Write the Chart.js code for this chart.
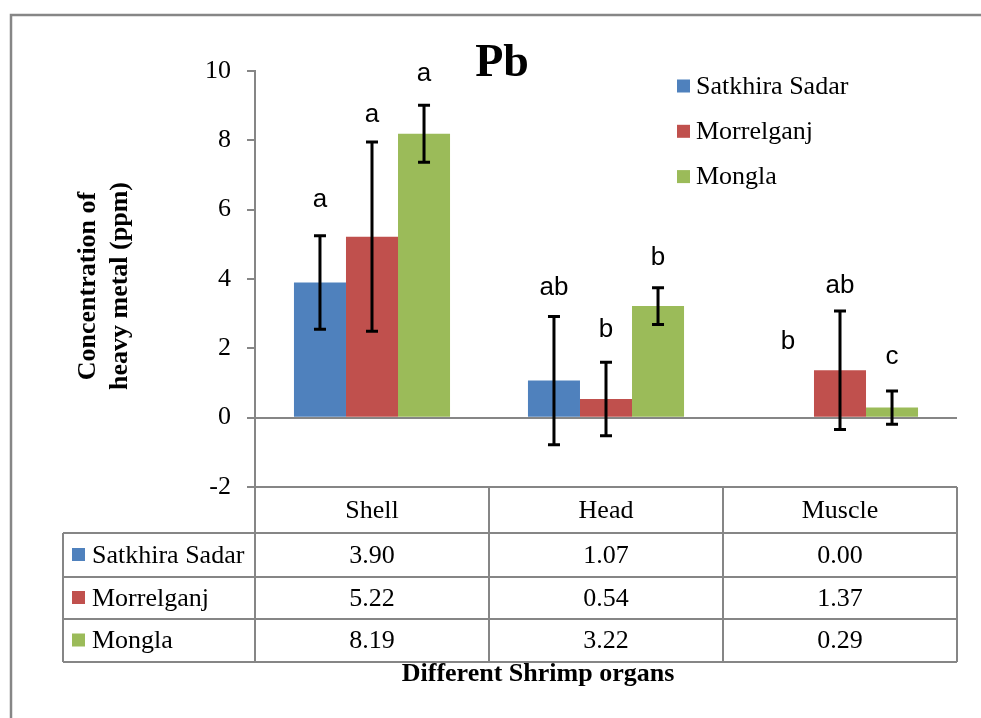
<!DOCTYPE html>
<html>
<head>
<meta charset="utf-8">
<script src="https://cdn.jsdelivr.net/npm/chart.js@4.4.1/dist/chart.umd.min.js"></script>
<style>
  body { margin: 0; background: #fff; }
  canvas { display: block; }
</style>
</head>
<body>
<canvas id="pbChart" width="981" height="718"></canvas>
<script>
// data
const organs = ['Shell', 'Head', 'Muscle'];
const sites = ['Satkhira Sadar', 'Morrelganj', 'Mongla'];
const satkhira = [3.90, 1.07, 0.00];
const morrelganj = [5.22, 0.54, 1.37];
const mongla = [8.19, 3.22, 0.29];
// +/- error (SD)
const satkhiraErr = [1.35, 1.85, 0];
const morrelganjErr = [2.73, 1.06, 1.71];
const monglaErr = [0.82, 0.53, 0.48];
// significance letters and the level they sit at
const satkhiraLetters = ['a', 'ab', 'b'];
const morrelganjLetters = ['a', 'b', 'ab'];
const monglaLetters = ['a', 'b', 'c'];
const satkhiraLetterY = [6.28, 3.74, 2.19];
const morrelganjLetterY = [8.73, 2.52, 3.79];
const monglaLetterY = [9.93, 4.60, 1.75];
const yMin = -2, yMax = 10, yStep = 2;

const colors = ['#4F81BD', '#C0504D', '#9BBB59'];
const errs = [satkhiraErr, morrelganjErr, monglaErr];
const letters = [satkhiraLetters, morrelganjLetters, monglaLetters];
const letterY = [satkhiraLetterY, morrelganjLetterY, monglaLetterY];
const series = [satkhira, morrelganj, mongla];
const GRAY = '#868686';
const SERIF = '"Liberation Serif", "Times New Roman", serif';

const extras = {
  id: 'extras',
  afterDatasetsDraw(chart) {
    const ctx = chart.ctx;
    const y = chart.scales.y;
    ctx.save();
    chart.data.datasets.forEach((ds, di) => {
      const meta = chart.getDatasetMeta(di);
      meta.data.forEach((bar, i) => {
        const e = errs[di][i];
        if (e > 0) {
          const top = y.getPixelForValue(ds.data[i] + e);
          const bot = y.getPixelForValue(ds.data[i] - e);
          ctx.strokeStyle = '#000';
          ctx.lineWidth = 3;
          ctx.beginPath();
          ctx.moveTo(bar.x, top); ctx.lineTo(bar.x, bot);
          ctx.moveTo(bar.x - 6, top); ctx.lineTo(bar.x + 6, top);
          ctx.moveTo(bar.x - 6, bot); ctx.lineTo(bar.x + 6, bot);
          ctx.stroke();
        }
        ctx.fillStyle = '#000';
        ctx.font = '26px "Liberation Sans", Arial, sans-serif';
        ctx.textAlign = 'center';
        ctx.textBaseline = 'middle';
        ctx.fillText(letters[di][i], bar.x, y.getPixelForValue(letterY[di][i]));
      });
    });
    ctx.restore();
  },
  afterDraw(chart) {
    const ctx = chart.ctx;
    const x = chart.scales.x;
    const area = chart.chartArea;
    ctx.save();

    // outer frame
    ctx.strokeStyle = GRAY;
    ctx.lineWidth = 2.5;
    ctx.beginPath();
    ctx.moveTo(11, 718); ctx.lineTo(11, 15); ctx.lineTo(981, 15);
    ctx.stroke();

    // title
    ctx.fillStyle = '#000';
    ctx.textAlign = 'center';
    ctx.textBaseline = 'middle';
    ctx.font = 'bold 46px ' + SERIF;
    ctx.fillText('Pb', 502, 64);

    // y title
    ctx.save();
    ctx.translate(104, 286);
    ctx.rotate(-Math.PI / 2);
    ctx.font = 'bold 26px ' + SERIF;
    ctx.fillText('Concentration of', 0, -16);
    ctx.fillText('heavy metal (ppm)', 0, 16);
    ctx.restore();

    // legend
    ctx.textAlign = 'left';
    ctx.font = '26px ' + SERIF;
    sites.forEach((s, i) => {
      const cy = 86 + i * 45.3;
      ctx.fillStyle = colors[i];
      ctx.fillRect(677, cy - 6.5, 13, 13);
      ctx.fillStyle = '#000';
      ctx.fillText(s, 696, cy + 1);
    });

    // data table
    const tTop = area.bottom;
    const rowY = [tTop, 533, 577, 619, 662];
    const tLeft = 63;
    const tRight = area.right;
    const colW = (area.right - area.left) / organs.length;
    ctx.strokeStyle = GRAY;
    ctx.lineWidth = 2;
    ctx.beginPath();
    ctx.moveTo(area.left, rowY[0]); ctx.lineTo(tRight, rowY[0]);
    for (let r = 1; r < rowY.length; r++) {
      ctx.moveTo(tLeft, rowY[r]); ctx.lineTo(tRight, rowY[r]);
    }
    ctx.moveTo(tLeft, rowY[1]); ctx.lineTo(tLeft, rowY[4]);
    for (let c = 0; c <= organs.length; c++) {
      const cx = area.left + c * colW;
      ctx.moveTo(cx, rowY[0]); ctx.lineTo(cx, rowY[4]);
    }
    ctx.stroke();

    ctx.fillStyle = '#000';
    ctx.textAlign = 'center';
    organs.forEach((o, i) => {
      const cx = x.getPixelForValue(i);
      ctx.fillText(o, cx, (rowY[0] + rowY[1]) / 2 + 1);
      series.forEach((s, si) => {
        ctx.fillText(s[i].toFixed(2), cx, (rowY[si + 1] + rowY[si + 2]) / 2 + 1);
      });
    });
    sites.forEach((s, si) => {
      const cy = (rowY[si + 1] + rowY[si + 2]) / 2;
      ctx.fillStyle = colors[si];
      ctx.fillRect(72, cy - 7, 13, 13);
      ctx.fillStyle = '#000';
      ctx.textAlign = 'left';
      ctx.fillText(s, 92, cy + 1);
    });

    // x title
    ctx.textAlign = 'center';
    ctx.font = 'bold 26px ' + SERIF;
    ctx.fillText('Different Shrimp organs', 538, 674);

    ctx.restore();
  }
};

new Chart(document.getElementById('pbChart'), {
  type: 'bar',
  data: {
    labels: organs,
    datasets: series.map((s, i) => ({
      label: sites[i],
      data: s,
      backgroundColor: colors[i],
      borderWidth: 0,
      barPercentage: 1,
      categoryPercentage: 0.667
    }))
  },
  options: {
    responsive: false,
    animation: false,
    devicePixelRatio: 1,
    layout: { padding: { left: 0, right: 24, top: 71, bottom: 231 } },
    plugins: { legend: { display: false }, tooltip: { enabled: false } },
    scales: {
      x: { display: false },
      y: {
        min: yMin,
        max: yMax,
        afterFit: s => { s.width = 255; },
        ticks: {
          stepSize: yStep,
          padding: 16,
          color: '#000',
          font: { family: SERIF, size: 26 }
        },
        grid: {
          drawOnChartArea: true,
          drawTicks: true,
          tickLength: 8,
          tickColor: GRAY,
          lineWidth: 2,
          color: c => (c.tick && c.tick.value === 0) ? GRAY : 'rgba(0,0,0,0)'
        },
        border: { color: GRAY, width: 2 }
      }
    }
  },
  plugins: [extras]
});
</script>
</body>
</html>
